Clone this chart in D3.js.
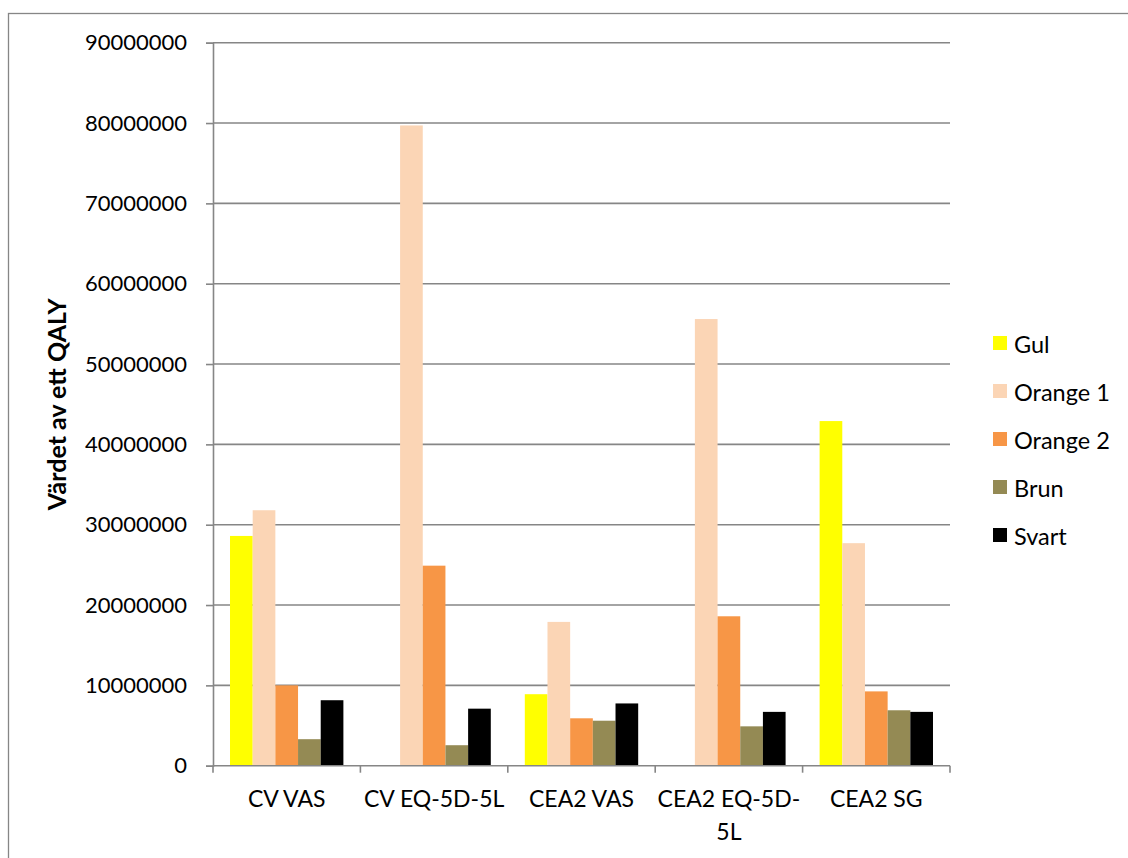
<!DOCTYPE html>
<html>
<head>
<meta charset="utf-8">
<script src="https://cdn.jsdelivr.net/npm/d3@7"></script>
<style>
  html, body { margin: 0; padding: 0; background: #fff; }
  svg text { font-family: Lato, "Open Sans", sans-serif; fill: #000; }
</style>
</head>
<body>
<div id="chart"></div>
<script>
// ---- Data ----
const categories = ['CV VAS', 'CV EQ-5D-5L', 'CEA2 VAS', 'CEA2 EQ-5D-5L', 'CEA2 SG'];
const seriesNames = ['Gul', 'Orange 1', 'Orange 2', 'Brun', 'Svart'];
const seriesColors = ['#ffff00', '#fbd5b5', '#f79646', '#948a54', '#000000'];
const gul     = [28600000, 0,        8900000,  0,        42900000];
const orange1 = [31800000, 79700000, 17900000, 55600000, 27700000];
const orange2 = [10000000, 24900000, 5900000,  18600000, 9250000];
const brun    = [3300000,  2550000,  5600000,  4900000,  6900000];
const svart   = [8150000,  7100000,  7750000,  6700000,  6700000];
const yTicks = [0, 10000000, 20000000, 30000000, 40000000, 50000000, 60000000, 70000000, 80000000, 90000000];
const yTitle = 'Värdet av ett QALY';

const seriesValues = [gul, orange1, orange2, brun, svart];

const W = 1128, H = 858;
const plot = { left: 213, right: 950, top: 42.7, bottom: 765.7 };

const svg = d3.select('#chart').append('svg')
  .attr('width', W).attr('height', H);

// chart area border
svg.append('rect')
  .attr('x', 8.5).attr('y', 13.5)
  .attr('width', W + 10).attr('height', H + 10)
  .attr('fill', 'none').attr('stroke', '#868686').attr('stroke-width', 1.3);

const x0 = d3.scaleBand().domain(categories).range([plot.left, plot.right]).padding(0);
const x1 = d3.scaleBand().domain(seriesNames).range([0, x0.bandwidth()])
  .paddingInner(0).paddingOuter(0.75);
const y = d3.scaleLinear().domain([0, 90000000]).range([plot.bottom, plot.top]);

// ---- Grid ----
svg.append('g')
  .selectAll('line').data(yTicks.filter(d => d > 0)).join('line')
  .attr('x1', plot.left).attr('x2', plot.right)
  .attr('y1', d => y(d)).attr('y2', d => y(d))
  .attr('stroke', '#868686').attr('stroke-width', 1.6);

// ---- Bars ----
const groups = svg.append('g')
  .selectAll('g').data(categories).join('g')
  .attr('transform', d => `translate(${x0(d)},0)`);

groups.selectAll('rect')
  .data((c, ci) => seriesNames.map((s, si) => ({ s, si, v: seriesValues[si][ci] })))
  .join('rect')
  .attr('x', d => x1(d.s))
  .attr('width', x1.bandwidth())
  .attr('y', d => y(d.v))
  .attr('height', d => y(0) - y(d.v))
  .attr('fill', d => seriesColors[d.si]);

// ---- Y axis ----
const yAxis = svg.append('g')
  .attr('transform', `translate(${plot.left},0)`)
  .call(d3.axisLeft(y).tickValues(yTicks).tickSize(7).tickPadding(19).tickFormat(d3.format('d')));
yAxis.select('.domain').attr('stroke', '#868686').attr('stroke-width', 1.6);
yAxis.selectAll('.tick line').attr('stroke', '#868686').attr('stroke-width', 1.6);
yAxis.selectAll('.tick text').attr('font-size', 22).attr('font-family', 'Lato, sans-serif');

// ---- X axis ----
const xAxis = svg.append('g')
  .attr('transform', `translate(0,${plot.bottom})`);
xAxis.append('line')
  .attr('x1', plot.left).attr('x2', plot.right)
  .attr('stroke', '#868686').attr('stroke-width', 1.6);
const bounds = categories.map(c => x0(c)).concat([plot.right]);
xAxis.selectAll('line.tk').data(bounds).join('line')
  .attr('class', 'tk')
  .attr('x1', d => d).attr('x2', d => d)
  .attr('y1', 0).attr('y2', 7)
  .attr('stroke', '#868686').attr('stroke-width', 1.6);

const labels = xAxis.selectAll('text.cat').data(categories).join('text')
  .attr('class', 'cat')
  .attr('x', d => x0(d) + x0.bandwidth() / 2)
  .attr('y', 41)
  .attr('text-anchor', 'middle')
  .attr('font-size', 23);

// wrap long category labels like Excel does
labels.each(function (d) {
  const t = d3.select(this);
  t.text(d);
  const maxW = x0.bandwidth() - 4;
  if (this.getComputedTextLength() <= maxW) return;
  let cut = -1;
  for (let i = d.length - 1; i > 0; i--) {
    if (d[i] === '-' || d[i] === ' ') {
      t.text(d.slice(0, i + 1));
      if (this.getComputedTextLength() <= maxW) { cut = i + 1; break; }
    }
  }
  if (cut < 0) { t.text(d); return; }
  const cx = t.attr('x');
  t.text(null);
  t.append('tspan').attr('x', cx).text(d.slice(0, cut).trim());
  t.append('tspan').attr('x', cx).attr('dy', 33).text(d.slice(cut).trim());
});

// ---- Y title ----
svg.append('text')
  .attr('transform', `translate(66,${(plot.top + plot.bottom) / 2}) rotate(-90)`)
  .attr('text-anchor', 'middle')
  .attr('font-size', 25)
  .attr('font-weight', 700)
  .text(yTitle);

// ---- Legend ----
const legend = svg.append('g').attr('transform', 'translate(993,343)');
const items = legend.selectAll('g').data(seriesNames).join('g')
  .attr('transform', (d, i) => `translate(0,${i * 48})`);
items.append('rect')
  .attr('x', 0).attr('y', -7).attr('width', 14).attr('height', 14)
  .attr('fill', (d, i) => seriesColors[i]);
items.append('text')
  .attr('x', 21).attr('y', 1)
  .attr('dominant-baseline', 'central')
  .attr('font-size', 23.5)
  .text(d => d);
</script>
</body>
</html>
